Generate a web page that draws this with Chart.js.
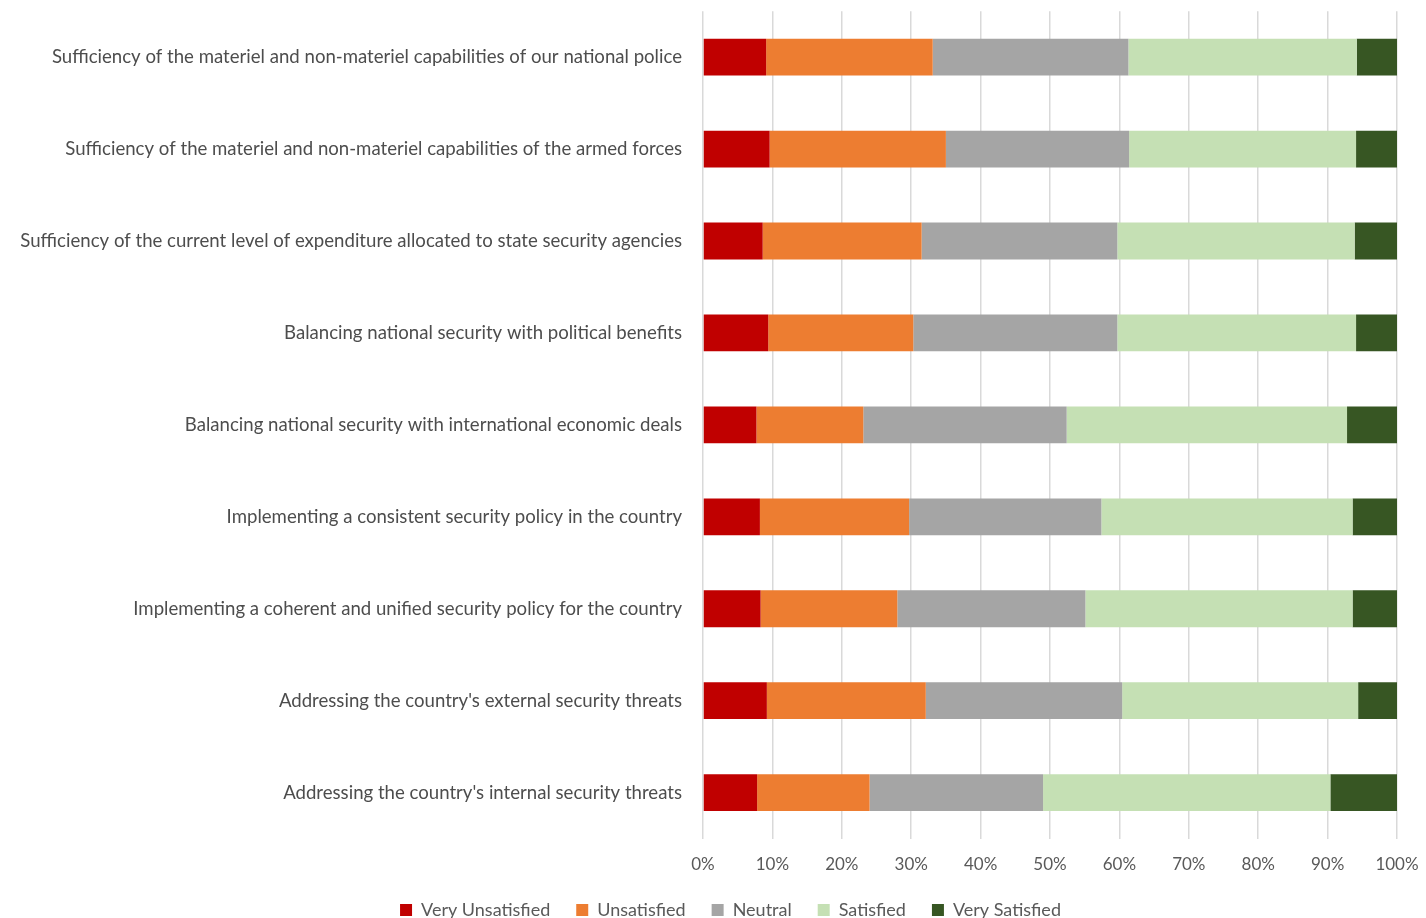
<!DOCTYPE html>
<html>
<head>
<meta charset="utf-8">
<script src="https://cdn.jsdelivr.net/npm/chart.js@4/dist/chart.umd.min.js"></script>
<style>
  html, body { margin: 0; padding: 0; background: #fff; overflow: hidden; }
  #wrap { width: 1426px; height: 929px; position: relative; }
</style>
</head>
<body>
<div id="wrap"><canvas id="chart"></canvas></div>
<script>
const items = [
  "Sufficiency of the materiel and non-materiel capabilities of our national police",
  "Sufficiency of the materiel and non-materiel capabilities of the armed forces",
  "Sufficiency of the current level of expenditure allocated to state security agencies",
  "Balancing national security with political benefits",
  "Balancing national security with international economic deals",
  "Implementing a consistent security policy in the country",
  "Implementing a coherent and unified security policy for the country",
  "Addressing the country's external security threats",
  "Addressing the country's internal security threats"
];

// shares of respondents (%) per item
const veryUnsatisfied = [9.1, 9.6, 8.6, 9.4, 7.7, 8.2, 8.3, 9.2, 7.8];
const unsatisfied     = [24.0, 25.4, 22.9, 20.9, 15.4, 21.5, 19.7, 22.9, 16.2];
const neutral         = [28.2, 26.4, 28.2, 29.4, 29.3, 27.7, 27.1, 28.3, 25.0];
const satisfied       = [32.9, 32.7, 34.2, 34.4, 40.4, 36.2, 38.5, 34.0, 41.4];
const verySatisfied   = [5.8, 5.9, 6.1, 5.9, 7.2, 6.4, 6.4, 5.6, 9.6];

const xTicks = [0, 10, 20, 30, 40, 50, 60, 70, 80, 90, 100];

const seriesNames = ['Very Unsatisfied', 'Unsatisfied', 'Neutral', 'Satisfied', 'Very Satisfied'];
const seriesColors = ['#C00000', '#ED7D31', '#A5A5A5', '#C5E0B4', '#375623'];
const seriesData = [veryUnsatisfied, unsatisfied, neutral, satisfied, verySatisfied];

const FONT = 'Lato, "Open Sans", sans-serif';
const TEXT = '#595959';

// nudge the legend row a little to the right of the plain centre
const legendShift = {
  id: 'legendShift',
  afterLayout(chart) {
    const lg = chart.legend;
    lg.left += 32;
    lg.right += 32;
  }
};

new Chart(document.getElementById('chart'), {
  type: 'bar',
  data: {
    labels: items,
    datasets: seriesNames.map((name, i) => ({
      label: name,
      data: seriesData[i],
      backgroundColor: seriesColors[i],
      borderWidth: 0,
      barPercentage: 0.4,
      categoryPercentage: 1
    }))
  },
  plugins: [legendShift],
  options: {
    indexAxis: 'y',
    responsive: true,
    maintainAspectRatio: false,
    animation: false,
    layout: { padding: { top: 9, left: 0, right: 29, bottom: 0 } },
    plugins: {
      tooltip: { enabled: false },
      legend: {
        position: 'bottom',
        labels: {
          boxWidth: 12,
          boxHeight: 12,
          padding: 26,
          color: TEXT,
          font: { family: FONT, size: 18 }
        }
      }
    },
    scales: {
      x: {
        stacked: true,
        min: 0,
        max: 100,
        afterBuildTicks: scale => { scale.ticks = xTicks.map(v => ({ value: v })); },
        grid: {
          color: '#D9D9D9',
          lineWidth: 1.5,
          drawTicks: true,
          tickLength: 16,
          tickColor: 'rgba(0,0,0,0)'
        },
        border: { display: false },
        ticks: {
          padding: 0,
          color: TEXT,
          font: { family: FONT, size: 17 },
          callback: v => v + '%'
        }
      },
      y: {
        stacked: true,
        grid: {
          display: true,
          drawOnChartArea: false,
          drawTicks: true,
          tickLength: 21,
          color: 'rgba(0,0,0,0)'
        },
        border: { display: false },
        afterFit: scale => { scale.width = 703; },
        ticks: {
          padding: 0,
          color: '#4D4D4D',
          font: { family: FONT, size: 18.6 }
        }
      }
    }
  }
});
</script>
</body>
</html>
